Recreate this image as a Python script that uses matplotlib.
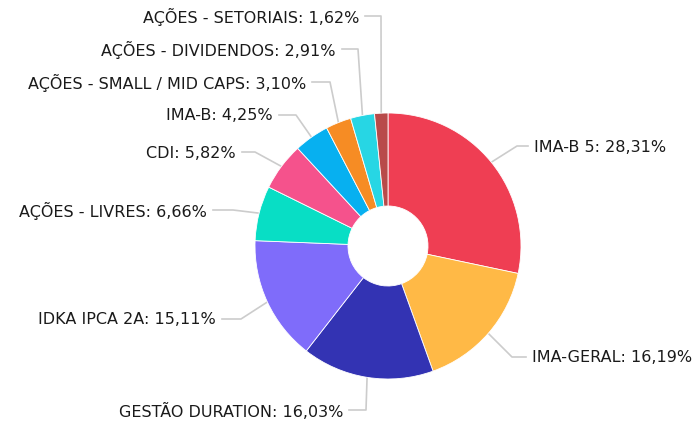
import numpy as np
import matplotlib
matplotlib.use("Agg")
import matplotlib.pyplot as plt

labels = ["IMA-B 5", "IMA-GERAL", "GESTÃO DURATION", "IDKA IPCA 2A", "AÇÕES - LIVRES",
          "CDI", "IMA-B", "AÇÕES - SMALL / MID CAPS", "AÇÕES - DIVIDENDOS", "AÇÕES - SETORIAIS"]
values = [28.31, 16.19, 16.03, 15.11, 6.66, 5.82, 4.25, 3.10, 2.91, 1.62]
colors = ["#EF3E53", "#FFB946", "#3333B3", "#7F6CFA", "#08DEC5",
          "#F5528C", "#07B0F0", "#F68C24", "#27D6E4", "#B84A4A"]

# label layout (image pixel coords): text anchor x, y, side, elbow x
label_layout = [
    (534, 147, "left", 517),
    (532, 358, "left", 512),
    (343, 411, "right", 366),
    (216, 320, "right", 241),
    (207, 211, "right", 233),
    (236, 153, "right", 255),
    (273, 116, "right", 296),
    (306, 83, "right", 330),
    (336, 50, "right", 358),
    (359, 17, "right", 381),
]

W, H = 695, 427
fig = plt.figure(figsize=(W / 100, H / 100), dpi=100)
ax = fig.add_axes([0, 0, 1, 1])
ax.set_xlim(0, W)
ax.set_ylim(0, H)
ax.set_aspect("equal")
ax.axis("off")

cx, cy, R, r_in = 388, H - 247, 133, 40
wedges, _ = ax.pie(values, colors=colors, startangle=90, counterclock=False,
                   center=(cx, cy), radius=R, frame=True,
                   wedgeprops=dict(width=R - r_in, edgecolor="white", linewidth=0.6))
ax.set_xlim(0, W)
ax.set_ylim(0, H)
ax.axis("off")

for w, lab, val, (tx, ty, side, ex) in zip(wedges, labels, values, label_layout):
    ang = np.deg2rad((w.theta1 + w.theta2) / 2)
    px, py = cx + R * np.cos(ang), cy + R * np.sin(ang)
    tyd = H - ty
    if side == "left":
        end = tx - 6
    else:
        end = tx + 6
    ax.plot([px, ex, end], [py, tyd, tyd], color="#cccccc", lw=1.2, zorder=0)
    txt = f"{lab}: {val:.2f}%".replace(".", ",")
    ax.text(tx, tyd, txt, ha=side, va="center", fontsize=11.5,
            color="#1a1a1a", family="DejaVu Sans")

fig.savefig("out.png", dpi=100)
